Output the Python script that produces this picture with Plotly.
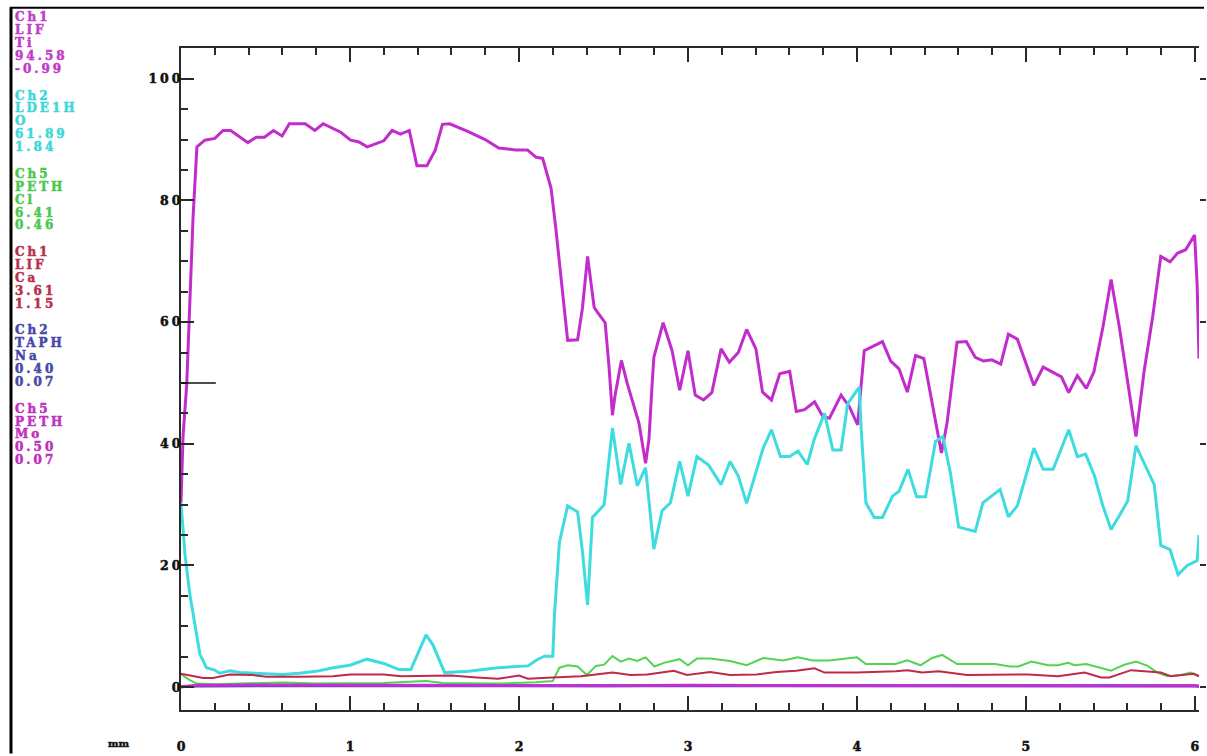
import plotly.graph_objects as go

# ---------------- data ----------------
ti_x = [0.0, 0.012, 0.034, 0.053, 0.071, 0.094, 0.141, 0.2, 0.249, 0.294, 0.396, 0.445, 0.494, 0.547, 0.598,
        0.641, 0.735, 0.792, 0.841, 0.945, 1.004, 1.053, 1.102, 1.151, 1.2, 1.249, 1.298, 1.351, 1.396, 1.455,
        1.504, 1.547, 1.59, 1.70, 1.80, 1.88, 1.98, 2.05, 2.10, 2.14, 2.19, 2.218, 2.239, 2.288, 2.347, 2.376,
        2.406, 2.445, 2.465, 2.51, 2.533, 2.553, 2.567, 2.606, 2.641, 2.69, 2.71, 2.749, 2.769, 2.788, 2.798,
        2.853, 2.906, 2.951, 3.0, 3.043, 3.092, 3.141, 3.196, 3.245, 3.298, 3.347, 3.402, 3.441, 3.494, 3.543,
        3.602, 3.641, 3.69, 3.749, 3.798, 3.837, 3.906, 3.955, 4.004, 4.043, 4.151, 4.2, 4.249, 4.298, 4.347,
        4.396, 4.445, 4.5, 4.533, 4.592, 4.647, 4.7, 4.749, 4.798, 4.851, 4.896, 4.949, 4.994, 5.047, 5.102,
        5.161, 5.21, 5.253, 5.304, 5.357, 5.402, 5.455, 5.504, 5.553, 5.602, 5.651, 5.7, 5.749, 5.798, 5.853,
        5.896, 5.945, 5.998, 6.013, 6.024]
ti_y = [30.3, 41.2, 49.8, 63.0, 77.0, 88.8, 89.9, 90.2, 91.5, 91.5, 89.5, 90.4, 90.4, 91.5, 90.6,
        92.6, 92.6, 91.5, 92.6, 91.2, 89.9, 89.6, 88.8, 89.3, 89.8, 91.5, 90.9, 91.5, 85.7, 85.7,
        88.2, 92.5, 92.6, 91.3, 90.0, 88.6, 88.3, 88.3, 87.1, 86.9, 82.0, 75.4, 70.0, 57.0, 57.1, 62.4,
        70.8, 62.4, 61.6, 59.9, 52.6, 44.7, 47.7, 53.7, 49.9, 45.5, 43.4, 36.8, 40.7, 49.9, 54.2,
        59.9, 55.3, 48.8, 55.3, 48.0, 47.2, 48.4, 55.6, 53.4, 55.0, 58.8, 55.6, 48.5, 47.2, 51.5,
        51.9, 45.3, 45.6, 46.9, 44.5, 44.2, 48.0, 46.1, 43.1, 55.3, 56.8, 53.6, 52.3, 48.5, 54.5,
        54.0, 46.6, 38.5, 43.4, 56.7, 56.8, 54.2, 53.6, 53.8, 53.1, 58.0, 57.2, 53.7, 49.6, 52.6,
        51.8, 51.0, 48.4, 51.2, 49.1, 51.8, 59.1, 67.0, 59.1, 49.9, 41.2, 52.1, 60.7, 70.8, 69.9,
        71.3, 71.9, 74.3, 66.2, 54.0]

o_x = [0.0, 0.024, 0.053, 0.082, 0.112, 0.151, 0.2, 0.229, 0.288, 0.35, 0.45, 0.6, 0.7, 0.8, 0.9, 1.0,
       1.1, 1.2, 1.29, 1.36, 1.45, 1.49, 1.56, 1.7, 1.876, 2.053, 2.112, 2.151, 2.2, 2.21, 2.239, 2.288,
       2.347, 2.376, 2.406, 2.435, 2.504, 2.553, 2.602, 2.651, 2.7, 2.749, 2.798, 2.847, 2.896, 2.951,
       3.0, 3.053, 3.122, 3.196, 3.249, 3.298, 3.347, 3.445, 3.494, 3.547, 3.602, 3.651, 3.706, 3.749,
       3.808, 3.857, 3.906, 3.945, 4.014, 4.024, 4.053, 4.102, 4.151, 4.21, 4.249, 4.302, 4.353, 4.406,
       4.465, 4.508, 4.553, 4.602, 4.7, 4.745, 4.847, 4.896, 4.949, 5.047, 5.102, 5.161, 5.253, 5.304,
       5.353, 5.406, 5.455, 5.504, 5.553, 5.602, 5.651, 5.7, 5.759, 5.798, 5.853, 5.9, 5.955, 6.013, 6.024]
o_y = [30.3, 21.7, 15.1, 10.3, 5.4, 3.2, 2.8, 2.3, 2.7, 2.4, 2.3, 2.1, 2.3, 2.6, 3.2, 3.6,
       4.6, 3.9, 2.9, 2.9, 8.6, 7.0, 2.4, 2.6, 3.2, 3.5, 4.6, 5.1, 5.1, 11.9, 23.8, 29.8,
       28.8, 22.2, 13.5, 27.9, 30.0, 42.6, 33.3, 40.1, 33.1, 36.1, 22.7, 29.0, 30.3, 37.1,
       31.4, 37.9, 36.5, 33.3, 37.1, 34.7, 30.2, 39.3, 42.3, 37.9, 37.9, 38.8, 36.6, 40.9,
       45.0, 39.0, 39.0, 46.6, 49.3, 42.8, 30.3, 27.9, 27.9, 31.4, 32.2, 35.8, 31.3, 31.3,
       40.4, 41.2, 35.2, 26.3, 25.6, 30.3, 32.5, 28.0, 29.8, 39.3, 35.8, 35.8, 42.3, 37.9,
       38.3, 34.7, 29.8, 25.9, 28.2, 30.6, 39.7, 36.7, 33.3, 23.3, 22.6, 18.5, 20.0, 20.8, 25.0]

cl_x = [0.0, 0.05, 0.092, 0.2, 0.4, 0.6, 0.8, 1.0, 1.2, 1.35, 1.45, 1.55, 1.7, 1.876, 2.1, 2.2, 2.239,
        2.288, 2.347, 2.402, 2.455, 2.504, 2.553, 2.602, 2.651, 2.7, 2.749, 2.802, 2.857, 2.951, 3.0,
        3.053, 3.131, 3.249, 3.347, 3.445, 3.563, 3.651, 3.739, 3.837, 4.0, 4.053, 4.229, 4.298, 4.376,
        4.445, 4.504, 4.592, 4.818, 4.906, 4.955, 5.033, 5.131, 5.19, 5.249, 5.288, 5.357, 5.416, 5.504,
        5.582, 5.651, 5.72, 5.778, 5.837, 5.916, 5.975, 6.024]
cl_y = [2.1, 1.2, 0.6, 0.5, 0.65, 0.75, 0.6, 0.6, 0.7, 0.9, 1.0, 0.7, 0.6, 0.6, 0.8, 1.0, 3.2,
        3.6, 3.4, 2.0, 3.5, 3.7, 5.1, 4.2, 4.7, 4.3, 4.9, 3.4, 4.0, 4.6, 3.6,
        4.7, 4.7, 4.3, 3.6, 4.8, 4.4, 4.9, 4.4, 4.4, 4.9, 3.8, 3.8, 4.4, 3.6,
        4.8, 5.3, 3.8, 3.8, 3.4, 3.4, 4.2, 3.6, 3.6, 4.0, 3.6, 3.8, 3.4, 2.7,
        3.7, 4.2, 3.5, 2.4, 1.8, 2.0, 2.4, 1.8]

ca_x = [0.0, 0.131, 0.19, 0.288, 0.424, 0.504, 0.7, 0.9, 1.0, 1.2, 1.3, 1.5, 1.6, 1.75, 1.876, 2.0,
        2.053, 2.2, 2.367, 2.553, 2.661, 2.759, 2.916, 2.994, 3.131, 3.249, 3.406, 3.524, 3.641, 3.749,
        3.808, 4.0, 4.229, 4.298, 4.386, 4.484, 4.651, 5.014, 5.19, 5.347, 5.445, 5.494, 5.622, 5.7,
        5.798, 5.857, 5.994, 6.024]
ca_y = [2.2, 1.5, 1.5, 2.1, 2.0, 1.7, 1.7, 1.8, 2.1, 2.1, 1.8, 1.8, 1.9, 1.6, 1.4, 1.9,
        1.4, 1.6, 1.8, 2.4, 2.0, 2.1, 2.7, 2.0, 2.5, 2.0, 2.1, 2.5, 2.7, 3.1,
        2.4, 2.4, 2.6, 2.8, 2.4, 2.6, 2.0, 2.1, 1.8, 2.4, 1.6, 1.6, 2.8, 2.6,
        2.4, 1.8, 2.2, 1.8]

low_x = [0.0, 0.1, 0.5, 1.0, 1.5, 2.0, 2.5, 3.0, 3.5, 4.0, 4.5, 5.0, 5.5, 6.0, 6.024]
na_y = [0.07, 0.2, 0.25, 0.25, 0.3, 0.25, 0.3, 0.25, 0.25, 0.3, 0.25, 0.25, 0.3, 0.25, 0.1]
mo_y = [0.07, 0.3, 0.35, 0.3, 0.35, 0.3, 0.25, 0.3, 0.3, 0.25, 0.3, 0.3, 0.25, 0.3, 0.2]

x_ticks = [0, 1, 2, 3, 4, 5, 6]
y_ticks = [0, 20, 40, 60, 80, 100]
cursor_y = 50
cursor_len = 0.206

legend_blocks = [
    ["Ch1", "LIF", "Ti", "94.58", "-0.99"],
    ["Ch2", "LDE1H", "O", "61.89", "1.84"],
    ["Ch5", "PETH", "Cl", "6.41", "0.46"],
    ["Ch1", "LIF", "Ca", "3.61", "1.15"],
    ["Ch2", "TAPH", "Na", "0.40", "0.07"],
    ["Ch5", "PETH", "Mo", "0.50", "0.07"],
]
legend_colors = ["#C23CC8", "#3ED6DA", "#4CC84C", "#B8304C", "#4848A8", "#C030C0"]
line_colors = ["#C22CCC", "#3EDCDE", "#52D452", "#C0284C", "#5A3CC0", "#C030D0"]

# ---------------- layout constants ----------------
W, H = 1207, 756
L, R, T, B = 181, 2, 48, 40
PW, PH = W - L - R, H - T - B
X_RANGE = [0, 6.024]
Y_RANGE = [-3.75, 105.05]
AX = "#2a2a2a"


def px_x(px):
    return (px - L) / PW


def px_y(py):
    return (H - B - py) / PH


def styled(s, color, sp=3):
    return (f'<b><span style="letter-spacing:{sp}px;stroke:{color};stroke-width:0.5px">'
            f'{s}</span></b>')


fig = go.Figure()
series = [(ti_x, ti_y, 3), (o_x, o_y, 3), (cl_x, cl_y, 2), (ca_x, ca_y, 2),
          (low_x, na_y, 3), (low_x, mo_y, 3)]
names = ["Ti", "O", "Cl", "Ca", "Na", "Mo"]
for (xs, ys, w), c, n in zip(series, line_colors, names):
    fig.add_trace(go.Scatter(x=xs, y=ys, mode="lines", name=n,
                             line=dict(color=c, width=w), showlegend=False, hoverinfo="skip"))
# helper trace for right-hand tick marks
fig.add_trace(go.Scatter(x=[None], y=[None], yaxis="y2", showlegend=False, hoverinfo="skip"))

TXT = "#111111"
tick_font = dict(family="DejaVu Serif", size=12.5, color=TXT, weight="bold")

fig.update_layout(
    width=W, height=H, autosize=False,
    margin=dict(l=L, r=R, t=T, b=B, pad=0),
    paper_bgcolor="white", plot_bgcolor="white",
    xaxis=dict(range=X_RANGE, showgrid=False, zeroline=False,
               showline=True, linecolor=AX, linewidth=2, mirror="ticks",
               ticks="inside", ticklen=14, tickwidth=2, tickcolor=AX,
               tickmode="array", tickvals=x_ticks, ticktext=[styled(str(v), TXT, 0) for v in x_ticks],
               tickfont=tick_font, ticklabelstandoff=24,
               minor=dict(dtick=0.2, ticks="inside", ticklen=7, tickwidth=2, tickcolor=AX, showgrid=False)),
    yaxis=dict(range=Y_RANGE, showgrid=False, zeroline=False,
               showline=True, linecolor=AX, linewidth=2,
               ticks="inside", ticklen=13, tickwidth=2, tickcolor=AX,
               tickmode="array", tickvals=y_ticks, ticktext=[styled(str(v), TXT, 3) for v in y_ticks],
               tickfont=tick_font, ticklabelstandoff=-7,
               minor=dict(dtick=5, ticks="inside", ticklen=7, tickwidth=2, tickcolor=AX, showgrid=False)),
    yaxis2=dict(range=Y_RANGE, overlaying="y", side="right", showgrid=False, zeroline=False,
                showline=False, ticks="outside", ticklen=6, tickwidth=2, tickcolor=AX,
                tickmode="array", tickvals=y_ticks, showticklabels=False),
)

# cursor mark at left
fig.add_shape(type="line", xref="x", yref="y", x0=0, x1=cursor_len, y0=cursor_y, y1=cursor_y,
              line=dict(color="#111111", width=1.5))

# outer frame
fig.add_shape(type="line", xref="paper", yref="paper", x0=px_x(10), x1=px_x(10), y0=px_y(7), y1=px_y(760),
              line=dict(color="black", width=3))
fig.add_shape(type="line", xref="paper", yref="paper", x0=px_x(9), x1=px_x(1210), y0=px_y(7.5), y1=px_y(7.5),
              line=dict(color="black", width=2))

# channel labels
for b, (block, col) in enumerate(zip(legend_blocks, legend_colors)):
    for k, txt in enumerate(block):
        cy = 17 + 79 * b + 13 * k
        fig.add_annotation(x=px_x(13), y=px_y(cy), xref="paper", yref="paper",
                           text=styled(txt, col, 3), showarrow=False, xanchor="left", yanchor="middle",
                           borderpad=0,
                           font=dict(family="DejaVu Serif", size=12, color=col, weight="bold"))

fig.add_annotation(x=px_x(119), y=px_y(750), xref="paper", yref="paper", text=styled("mm", TXT, 0),
                   showarrow=False, xanchor="center", yanchor="middle", borderpad=0,
                   font=dict(family="DejaVu Serif", size=10, color=TXT, weight="bold"))

fig.write_html("out.html", config={"displayModeBar": False},
               post_script="document.body.style.margin='0';document.body.style.overflow='hidden';")
